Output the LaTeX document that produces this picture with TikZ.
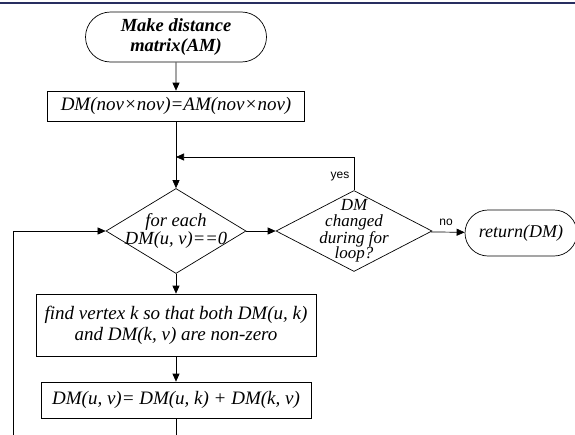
\documentclass[tikz,border=0pt]{standalone}
\usepackage{fontspec}
\setmainfont{Liberation Serif}
\newfontfamily\labelfont{Liberation Sans}
\usetikzlibrary{shapes.geometric,shapes.misc,arrows.meta}
\definecolor{topbar}{RGB}{40,46,96}

\begin{document}
\begin{tikzpicture}[x=1pt,y=-1pt,line width=0.7pt,
  terminal/.style={draw,rounded rectangle,inner sep=0pt,align=center},
  process/.style={draw,rectangle,inner sep=0pt,align=center,font=\fontsize{19}{21}\selectfont\itshape},
  decision/.style={draw,diamond,inner sep=0pt},
  dtext/.style={align=center,inner sep=0pt},
  flow/.style={-{Triangle[length=8pt,width=7pt]}},
  answer/.style={font=\labelfont\fontsize{12}{12}\selectfont}]
\useasboundingbox (0,0) rectangle (575,434);
\fill[topbar] (0,1.5) rectangle (575,4);

\node[terminal,minimum width=181pt,minimum height=50pt,font=\fontsize{18.5}{20}\selectfont\bfseries\itshape] (start) at (176,37) {Make distance\\matrix(AM)};
\node[process,minimum width=257pt,minimum height=30pt] (init) at (176,106) {DM(nov×nov)=AM(nov×nov)};

\coordinate (join) at (176,157);
\node[decision,minimum width=140pt,minimum height=85pt,
  label={[dtext,font=\fontsize{18.5}{16.5}\selectfont\itshape]center:for each\\DM(u, v)==0}] (each) at (176,231) {};
\node[decision,minimum width=156pt,minimum height=81pt,
  label={[dtext,font=\fontsize{17}{15.5}\selectfont\itshape]center:DM\\changed\\during for\\loop?}] (changed) at (354,231) {};
\node[terminal,minimum width=112pt,minimum height=46pt,font=\fontsize{18}{18}\selectfont\itshape] (ret) at (521,233) {return(DM)};

\node[process,minimum width=280pt,minimum height=62pt] (find) at (176,325) {find vertex k so that both DM(u, k)\\and DM(k, v) are non-zero};
\node[process,minimum width=270pt,minimum height=36pt] (update) at (176,400) {DM(u, v)= DM(u, k) + DM(k, v)};

\node[answer] (yes) at (340,177) {yes};
\node[answer] (no) at (446,222) {no};

\coordinate (loopend) at (176,440);
\coordinate (loopstart) at (13,440);

\draw[flow] (start) -- (init);
\draw (init) -- (join);
\draw[flow] (join) -- (each);
\draw[flow] (changed.north) |- (join);
\draw[flow] (each) -- (changed);
\draw[flow] (changed) -- (ret);
\draw[flow] (each) -- (find);
\draw[flow] (find) -- (update);
\draw (update) -- (loopend);
\draw[flow] (loopstart) |- (each);

\end{tikzpicture}
\end{document}
